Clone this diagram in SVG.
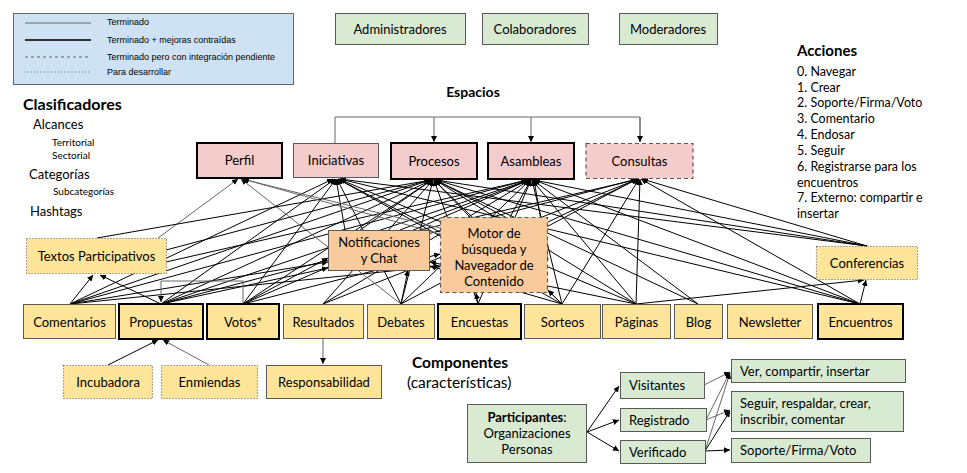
<svg xmlns="http://www.w3.org/2000/svg" width="967" height="473" viewBox="0 0 967 473">
<defs>
<style>
text{font-family:Lato,"Liberation Sans",sans-serif;fill:#000}
.t{font-size:13px;text-anchor:middle}
.s{font-size:10px}
.m{font-size:13px}
.a{font-size:12.5px}
.b{font-weight:bold}
.lg{font-family:"Liberation Sans",Arial,sans-serif;font-size:9px}
.pink{fill:#f4cccc}.org{fill:#f9cb9c}.yel{fill:#ffe599}.grn{fill:#d9ead3}
.thin{stroke:#595959;stroke-width:1}
.thick{stroke:#000;stroke-width:2}
.dash{stroke:#595959;stroke-width:1.2;stroke-dasharray:4 3}
.dot{stroke:#595959;stroke-width:1.2;stroke-dasharray:1 2}
#edges line,#edges path{fill:none;stroke:#000;stroke-width:1;marker-end:url(#ah)}
#edges .g{stroke:#666}
</style>
<marker id="ah" viewBox="0 0 10 10" refX="10" refY="5" markerWidth="6" markerHeight="6" markerUnits="userSpaceOnUse" orient="auto"><path d="M0,0L10,5L0,10z" fill="#000"/></marker>
</defs>
<rect width="967" height="473" fill="#fff"/>

<g id="legend">
<rect x="13.5" y="13.5" width="280" height="71" fill="#cfe2f3" stroke="#666"/>
<line x1="25" y1="23" x2="91" y2="23" stroke="#666" stroke-width="1"/>
<line x1="25" y1="40" x2="91" y2="40" stroke="#333" stroke-width="2"/>
<line x1="25" y1="57" x2="91" y2="57" stroke="#666" stroke-width="1" stroke-dasharray="3 3"/>
<line x1="25" y1="72" x2="91" y2="72" stroke="#666" stroke-width="1" stroke-dasharray="1 2"/>
<text class="lg" x="107" y="25">Terminado</text>
<text class="lg" x="107" y="43">Terminado + mejoras contraídas</text>
<text class="lg" x="107" y="60">Terminado pero con integración pendiente</text>
<text class="lg" x="107" y="75">Para desarrollar</text>
</g>

<g id="roles">
<g id="admin"><rect x="335.5" y="13.5" width="130" height="31" class="grn thin"/><text class="t" x="400" y="34">Administradores</text></g>
<g id="colab"><rect x="482.5" y="13.5" width="106" height="31" class="grn thin"/><text class="t" x="535" y="34">Colaboradores</text></g>
<g id="moder"><rect x="619.5" y="13.5" width="98" height="31" class="grn thin"/><text class="t" x="668" y="34">Moderadores</text></g>
</g>

<g id="clasificadores">
<text x="23" y="110" style="font-size:16px" class="b">Clasificadores</text>
<text class="m" x="33" y="129">Alcances</text>
<text class="s" x="52" y="146">Territorial</text>
<text class="s" x="52" y="159">Sectorial</text>
<text class="m" x="29" y="179">Categorías</text>
<text class="s" x="53" y="195">Subcategorías</text>
<text class="m" x="30" y="216">Hashtags</text>
</g>

<g id="acciones">
<text x="797" y="56" style="font-size:15px" class="b">Acciones</text>
<text class="a" x="797" y="76">0. Navegar</text>
<text class="a" x="797" y="92">1. Crear</text>
<text class="a" x="797" y="107">2. Soporte/Firma/Voto</text>
<text class="a" x="797" y="123">3. Comentario</text>
<text class="a" x="797" y="139">4. Endosar</text>
<text class="a" x="797" y="155">5. Seguir</text>
<text class="a" x="797" y="171">6. Registrarse para los</text>
<text class="a" x="797" y="187">encuentros</text>
<text class="a" x="797" y="202">7. Externo: compartir e</text>
<text class="a" x="797" y="218">insertar</text>
</g>

<text x="473" y="97" style="font-size:14px" class="t b">Espacios</text>
<text x="412" y="368" style="font-size:15.5px" class="b">Componentes</text>
<text x="407" y="388" style="font-size:15.5px">(características)</text>

<g id="edges">
<path class="g" d="M335,143V117H640V142" style="marker-end:none"/>
<line class="g" x1="434" y1="117" x2="434" y2="142"/>
<line class="g" x1="531" y1="117" x2="531" y2="142"/>
<line class="g" x1="640" y1="117" x2="640" y2="142"/>
<line x1="70" y1="304" x2="93" y2="275"/>
<line x1="70" y1="304" x2="333" y2="179"/>
<line x1="70" y1="304" x2="430" y2="180"/>
<line x1="70" y1="304" x2="527" y2="180"/>
<line x1="70" y1="304" x2="328" y2="262"/>
<line x1="70" y1="304" x2="440" y2="266"/>
<line x1="161" y1="304" x2="100" y2="275"/>
<line x1="161" y1="304" x2="335" y2="179"/>
<line x1="161" y1="304" x2="432" y2="180"/>
<line x1="161" y1="304" x2="529" y2="180"/>
<line x1="161" y1="304" x2="637" y2="179"/>
<line x1="161" y1="304" x2="328" y2="268"/>
<path class="g" d="M243,304V281H161V302"/>
<line x1="243" y1="304" x2="336" y2="179"/>
<line x1="243" y1="304" x2="432" y2="180"/>
<line x1="243" y1="304" x2="529" y2="180"/>
<line x1="243" y1="304" x2="328" y2="258"/>
<line x1="243" y1="304" x2="440" y2="254"/>
<line x1="323" y1="304" x2="433" y2="180"/>
<line x1="323" y1="304" x2="530" y2="180"/>
<line x1="323" y1="304" x2="638" y2="179"/>
<line class="g" x1="401" y1="304" x2="241" y2="179"/>
<line x1="401" y1="304" x2="337" y2="179"/>
<line x1="401" y1="304" x2="433" y2="180"/>
<line x1="401" y1="304" x2="530" y2="180"/>
<line x1="401" y1="304" x2="408" y2="270"/>
<line x1="401" y1="304" x2="637" y2="179"/>
<line x1="478" y1="304" x2="476" y2="293"/>
<line x1="478" y1="304" x2="434" y2="180"/>
<line x1="478" y1="304" x2="531" y2="180"/>
<line x1="562" y1="304" x2="338" y2="179"/>
<line x1="562" y1="304" x2="434" y2="180"/>
<line x1="562" y1="304" x2="532" y2="180"/>
<line x1="562" y1="304" x2="639" y2="179"/>
<line x1="562" y1="304" x2="430" y2="266"/>
<line x1="562" y1="304" x2="548" y2="290"/>
<line x1="636" y1="304" x2="339" y2="179"/>
<line x1="636" y1="304" x2="435" y2="180"/>
<line x1="636" y1="304" x2="532" y2="180"/>
<line x1="636" y1="304" x2="640" y2="179"/>
<line x1="636" y1="304" x2="864" y2="280"/>
<line x1="636" y1="304" x2="430" y2="262"/>
<line x1="698" y1="304" x2="435" y2="180"/>
<line x1="698" y1="304" x2="533" y2="180"/>
<line x1="860" y1="304" x2="866" y2="280"/>
<line x1="860" y1="304" x2="641" y2="179"/>
<line x1="860" y1="304" x2="534" y2="180"/>
<line x1="860" y1="304" x2="436" y2="180"/>
<line x1="860" y1="304" x2="340" y2="179"/>
<line x1="867" y1="246" x2="642" y2="179"/>
<line x1="867" y1="246" x2="534" y2="180"/>
<line x1="867" y1="246" x2="436" y2="180"/>
<line x1="867" y1="246" x2="340" y2="179"/>
<line class="g" x1="158" y1="238" x2="238" y2="179"/>
<line x1="97" y1="238" x2="431" y2="180"/>
<line x1="166" y1="262" x2="528" y2="180"/>
<line x1="166" y1="250" x2="430" y2="180"/>
<line x1="360" y1="230" x2="432" y2="180"/>
<line x1="400" y1="230" x2="529" y2="180"/>
<line x1="345" y1="230" x2="336" y2="179"/>
<line x1="420" y1="230" x2="639" y2="179"/>
<line x1="470" y1="217" x2="434" y2="180"/>
<line x1="510" y1="217" x2="531" y2="180"/>
<line x1="548" y1="222" x2="638" y2="179"/>
<line x1="440" y1="232" x2="338" y2="179"/>
<line class="g" x1="440" y1="228" x2="242" y2="179"/>
<line class="g" x1="440" y1="234" x2="243" y2="179"/>
<line x1="548" y1="260" x2="534" y2="180"/>
<line x1="548" y1="240" x2="436" y2="180"/>
<line x1="108" y1="365" x2="158" y2="340"/>
<line class="g" x1="209" y1="365" x2="163" y2="340"/>
<line class="g" x1="323" y1="339" x2="323" y2="364"/>
<line x1="587" y1="432" x2="619" y2="386"/>
<line x1="587" y1="432" x2="619" y2="420"/>
<line x1="587" y1="432" x2="619" y2="451"/>
<line class="g" x1="704" y1="385" x2="730" y2="372"/>
<line class="g" x1="706" y1="420" x2="730" y2="372"/>
<line class="g" x1="706" y1="420" x2="730" y2="410"/>
<line class="g" x1="705" y1="451" x2="730" y2="373"/>
<line x1="705" y1="451" x2="730" y2="411"/>
<line x1="705" y1="451" x2="730" y2="450"/>
</g>

<g id="espacios">
<g id="perfil"><rect x="197" y="143" width="85" height="35" class="pink thick"/><text class="t" x="239.5" y="165">Perfil</text></g>
<g id="iniciativas"><rect x="293.5" y="143.5" width="85" height="34" class="pink thin"/><text class="t" x="336" y="165">Iniciativas</text></g>
<g id="procesos"><rect x="391" y="143" width="86" height="36" class="pink thick"/><text class="t" x="434" y="166">Procesos</text></g>
<g id="asambleas"><rect x="488" y="143" width="86" height="36" class="pink thick"/><text class="t" x="531" y="166">Asambleas</text></g>
<g id="consultas"><rect x="586" y="143.5" width="107" height="35" class="pink dash"/><text class="t" x="639.5" y="166">Consultas</text></g>
</g>

<g id="notificaciones"><rect x="328.5" y="230.5" width="101" height="40" class="org thin"/><text class="t" x="379" y="247">Notificaciones</text><text class="t" x="379" y="263">y Chat</text></g>
<g id="motor"><rect x="440.5" y="217.5" width="107" height="75" class="org dash"/><text class="t" x="494" y="238">Motor de</text><text class="t" x="494" y="254">búsqueda y</text><text class="t" x="494" y="270">Navegador de</text><text class="t" x="494" y="286">Contenido</text></g>
<g id="textos"><rect x="26.5" y="238.5" width="140" height="35" class="yel dot"/><text class="t" x="96.5" y="261">Textos Participativos</text></g>
<g id="conferencias"><rect x="816.5" y="246.5" width="101" height="33" class="yel dot"/><text class="t" x="867" y="268">Conferencias</text></g>

<g id="componentes">
<g id="comentarios"><rect x="23.5" y="304.5" width="92" height="34" class="yel thin"/><text class="t" x="69.5" y="327">Comentarios</text></g>
<g id="propuestas"><rect x="119" y="304" width="84" height="35" class="yel thick"/><text class="t" x="161" y="327">Propuestas</text></g>
<g id="votos"><rect x="207" y="304" width="72" height="35" class="yel thick"/><text class="t" x="243" y="327">Votos*</text></g>
<g id="resultados"><rect x="283.5" y="304.5" width="80" height="34" class="yel thin"/><text class="t" x="323.5" y="327">Resultados</text></g>
<g id="debates"><rect x="367.5" y="304.5" width="67" height="34" class="yel thin"/><text class="t" x="401" y="327">Debates</text></g>
<g id="encuestas"><rect x="438" y="304" width="83" height="35" class="yel thick"/><text class="t" x="479.5" y="327">Encuestas</text></g>
<g id="sorteos"><rect x="524.5" y="304.5" width="76" height="34" class="yel thin"/><text class="t" x="562.5" y="327">Sorteos</text></g>
<g id="paginas"><rect x="602.5" y="304.5" width="68" height="34" class="yel thin"/><text class="t" x="636.5" y="327">Páginas</text></g>
<g id="blog"><rect x="674.5" y="304.5" width="48" height="34" class="yel thin"/><text class="t" x="698.5" y="327">Blog</text></g>
<g id="newsletter"><rect x="727.5" y="304.5" width="85" height="34" class="yel thin"/><text class="t" x="770" y="327">Newsletter</text></g>
<g id="encuentros"><rect x="818" y="304" width="85" height="35" class="yel thick"/><text class="t" x="860.5" y="327">Encuentros</text></g>
<g id="incubadora"><rect x="63.5" y="365.5" width="89" height="33" class="yel dot"/><text class="t" x="108" y="387">Incubadora</text></g>
<g id="enmiendas"><rect x="161.5" y="365.5" width="96" height="33" class="yel dot"/><text class="t" x="209.5" y="387">Enmiendas</text></g>
<g id="responsabilidad"><rect x="266.5" y="365.5" width="115" height="33" class="yel thin"/><text class="t" x="324" y="387">Responsabilidad</text></g>
</g>

<g id="participantes-grupo">
<g id="participantes"><rect x="467.5" y="404.5" width="119" height="58" class="grn thin"/><text class="t" x="527" y="422"><tspan class="b">Participantes</tspan>:</text><text class="t" x="527" y="438">Organizaciones</text><text class="t" x="527" y="454">Personas</text></g>
<g id="visitantes"><rect x="620.5" y="372.5" width="84" height="26" class="grn thin"/><text x="629" y="390" class="m">Visitantes</text></g>
<g id="registrado"><rect x="620.5" y="408.5" width="86" height="23" class="grn thin"/><text x="629" y="425" class="m">Registrado</text></g>
<g id="verificado"><rect x="620.5" y="440.5" width="85" height="23" class="grn thin"/><text x="629" y="457" class="m">Verificado</text></g>
<g id="ver"><rect x="731.5" y="359.5" width="174" height="23" class="grn thin"/><text x="740" y="376" class="m">Ver, compartir, insertar</text></g>
<g id="seguir"><rect x="731.5" y="391.5" width="172" height="40" class="grn thin"/><text x="740" y="408" class="m">Seguir, respaldar, crear,</text><text x="740" y="424" class="m">inscribir, comentar</text></g>
<g id="soporte"><rect x="731.5" y="438.5" width="139" height="24" class="grn thin"/><text x="740" y="455" class="m">Soporte/Firma/Voto</text></g>
</g>
</svg>
